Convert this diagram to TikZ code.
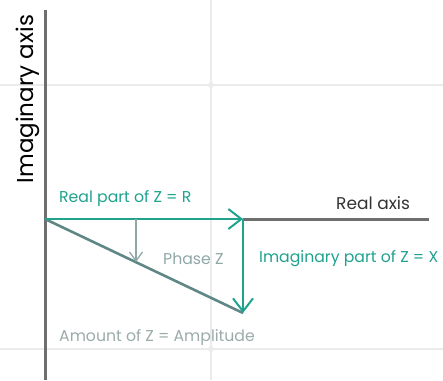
\documentclass[tikz,border=0pt]{standalone}
\usepackage{fontspec}
\setmainfont{Poppins}
\usepackage{xcolor}
\usetikzlibrary{arrows.meta}
\definecolor{tealline}{HTML}{1FA28E}
\definecolor{slateline}{HTML}{5F8785}
\definecolor{phasegray}{HTML}{8FA8A6}
\definecolor{ampgray}{HTML}{9AABAA}
\definecolor{axisgray}{HTML}{6E6E6E}
\definecolor{gridgray}{HTML}{EBEBEB}
\tikzset{
  gridline/.style={gridgray,line width=1.2pt},
  axisline/.style={axisgray,line width=3pt},
  tealarrow/.style={tealline,line width=2.2pt,-{Straight Barb[length=13pt,width=20pt,line width=2pt]}},
  phasearrow/.style={phasegray,line width=1.3pt,-{Straight Barb[length=9pt,width=13pt,line width=1.3pt]}},
  lbl/.style={inner sep=0pt,font=\fontsize{15.7}{19}\selectfont},
}
\begin{document}
\begin{tikzpicture}[x=1pt,y=-1pt]
\useasboundingbox (0,0) rectangle (443,380);
% grid
\draw[gridline] (0,85) -- (443,85); \draw[gridline] (0,349) -- (443,349);
\draw[gridline] (211,0) -- (211,380);
\fill[gridgray] (211,85) circle (3); \fill[gridgray] (211,349) circle (3);
% points
\coordinate (O) at (45,219); \coordinate (R) at (243,219); \coordinate (Z) at (243,313);
\coordinate (E) at (429,219); \coordinate (T) at (45,10); \coordinate (B) at (45,380);
\coordinate (P) at (136,219); \coordinate (Q) at (136,262);
% axes
\draw[axisline] (T) -- (B);
\draw[axisline] (R) -- (E);
% vectors
\draw[slateline,line width=2.6pt] (O) -- (Z);
\draw[tealarrow] (O) -- (R);
\draw[tealarrow] (R) -- (Z);
\draw[phasearrow] (P) -- (Q);
% labels
\node[lbl,rotate=90,black,font=\fontsize{23}{27}\selectfont] (ia) at (28,99) {Imaginary axis};
\node[lbl,anchor=west,tealline] (rl) at (59,198.5) {Real part of Z = R};
\node[lbl,anchor=west,black!80,font=\fontsize{17}{20}\selectfont] (ra) at (336,203) {Real axis};
\node[lbl,anchor=west,phasegray] (ph) at (163,258.5) {Phase Z};
\node[lbl,anchor=west,tealline] (il) at (259,258.5) {Imaginary part of Z = X};
\node[lbl,anchor=west,ampgray] (am) at (59,337.5) {Amount of Z = Amplitude};
\end{tikzpicture}
\end{document}
